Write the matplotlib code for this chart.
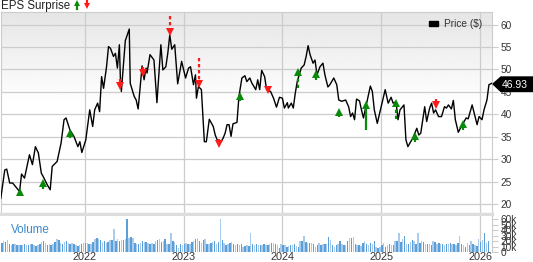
import numpy as np
import matplotlib
matplotlib.use("Agg")
import matplotlib.pyplot as plt
from matplotlib.patches import Polygon, Rectangle
from matplotlib.lines import Line2D

plt.rcParams['font.family'] = ['Liberation Sans', 'DejaVu Sans']

# price line, decimal years and dollars
price_t = [2021.15, 2021.19, 2021.21, 2021.24, 2021.27, 2021.30, 2021.34, 2021.36, 2021.39, 2021.44,
           2021.47, 2021.50, 2021.53, 2021.56, 2021.58, 2021.62, 2021.65, 2021.67, 2021.72, 2021.76,
           2021.79, 2021.81, 2021.85, 2021.89, 2021.93, 2021.95, 2021.97, 2022.01, 2022.03, 2022.05,
           2022.08, 2022.10, 2022.13, 2022.15, 2022.17, 2022.19, 2022.22, 2022.24, 2022.26, 2022.29,
           2022.31, 2022.33, 2022.35, 2022.36, 2022.37, 2022.41, 2022.45, 2022.46, 2022.50, 2022.52,
           2022.54, 2022.58, 2022.60, 2022.62, 2022.63, 2022.66, 2022.70, 2022.73, 2022.77, 2022.79,
           2022.82, 2022.84, 2022.86, 2022.88, 2022.91, 2022.94, 2022.98, 2023.02, 2023.05, 2023.07,
           2023.10, 2023.12, 2023.13, 2023.15, 2023.18, 2023.21, 2023.23, 2023.26, 2023.30, 2023.32,
           2023.36, 2023.40, 2023.42, 2023.44, 2023.46, 2023.48, 2023.50, 2023.54, 2023.56, 2023.59,
           2023.62, 2023.64, 2023.67, 2023.69, 2023.73, 2023.75, 2023.77, 2023.79, 2023.82, 2023.84,
           2023.88, 2023.91, 2023.94, 2023.97, 2024.00, 2024.02, 2024.05, 2024.06, 2024.09, 2024.11,
           2024.13, 2024.15, 2024.19, 2024.22, 2024.24, 2024.26, 2024.28, 2024.31, 2024.33, 2024.35,
           2024.38, 2024.41, 2024.43, 2024.46, 2024.48, 2024.52, 2024.55, 2024.57, 2024.60, 2024.64,
           2024.67, 2024.69, 2024.71, 2024.73, 2024.75, 2024.78, 2024.80, 2024.82, 2024.86, 2024.89,
           2024.91, 2024.93, 2024.96, 2025.00, 2025.04, 2025.07, 2025.10, 2025.12, 2025.15, 2025.17,
           2025.19, 2025.23, 2025.25, 2025.27, 2025.29, 2025.32, 2025.36, 2025.38, 2025.40, 2025.44,
           2025.46, 2025.49, 2025.51, 2025.53, 2025.55, 2025.58, 2025.61, 2025.64, 2025.66, 2025.68,
           2025.71, 2025.73, 2025.75, 2025.78, 2025.81, 2025.86, 2025.88, 2025.92, 2025.95, 2025.97,
           2025.99, 2026.02, 2026.04, 2026.07, 2026.09, 2026.12]
price = [21.3, 27.6, 27.8, 24.7, 24.7, 23.9, 22.8, 26.7, 25.8, 31.0,
         28.8, 32.8, 31.4, 26.9, 26.1, 24.3, 23.2, 28.4, 29.5, 33.6,
         38.8, 39.2, 36.5, 35.1, 32.8, 33.9, 31.5, 34.3, 37.7, 41.0,
         37.3, 41.0, 42.5, 40.6, 48.4, 45.8, 50.6, 55.1, 54.7, 52.9,
         53.6, 50.3, 55.5, 48.1, 45.1, 56.4, 59.0, 46.9, 44.0, 43.2,
         41.2, 50.8, 47.7, 50.3, 49.2, 53.3, 52.1, 42.6, 55.5, 49.9,
         50.6, 53.6, 57.7, 54.5, 55.5, 46.8, 51.8, 48.1, 50.3, 50.6,
         46.6, 48.8, 43.6, 46.2, 45.5, 33.9, 33.9, 38.9, 37.3, 35.4,
         33.2, 34.7, 35.8, 37.7, 37.7, 35.1, 37.9, 38.2, 44.0, 48.1,
         48.6, 47.3, 48.1, 47.0, 45.5, 47.7, 45.5, 49.8, 48.4, 45.5,
         45.1, 43.6, 41.6, 43.8, 43.6, 41.4, 42.6, 41.4, 42.5, 41.4,
         44.7, 47.3, 50.3, 51.0, 52.9, 55.3, 53.3, 51.4, 52.1, 48.8,
         50.6, 51.4, 48.8, 46.1, 46.6, 48.1, 46.6, 43.2, 42.9, 43.2,
         41.7, 39.5, 40.3, 38.8, 43.4, 43.0, 41.0, 39.2, 43.2, 46.3,
         45.1, 41.0, 38.0, 41.7, 45.5, 42.5, 43.8, 42.5, 42.8, 38.8,
         41.0, 42.1, 34.3, 32.8, 33.6, 34.7, 36.9, 35.4, 35.8, 41.7,
         38.4, 41.4, 42.5, 40.3, 41.0, 39.5, 39.5, 41.7, 41.4, 42.1,
         41.2, 43.1, 38.8, 36.0, 37.3, 39.2, 39.0, 42.1, 39.5, 37.7,
         39.5, 38.8, 41.0, 43.2, 46.6, 46.93]
last_price = "46.93"

# earnings surprises: date, arrow tip, arrow tail, beat/miss, dashed stem
eps_t = [2021.34, 2021.58, 2021.85, 2022.36, 2022.59, 2022.86, 2023.16, 2023.36, 2023.57,
         2023.85, 2024.16, 2024.34, 2024.57, 2024.85, 2025.15, 2025.34, 2025.55, 2025.83]
eps_tip = [23.4, 25.3, 36.4, 45.7, 48.7, 57.7, 46.2, 32.8, 44.6,
           44.9, 50.1, 49.5, 41.2, 42.6, 43.2, 35.8, 41.4, 38.4]
eps_tail = [21.7, 23.3, 34.7, 47.8, 50.5, 61.8, 52.5, 34.5, 42.9,
            46.3, 45.8, 47.7, 39.4, 36.5, 38.9, 33.9, 43.4, 36.5]
eps_beat = [True, True, True, False, False, False, False, False, True,
            False, True, True, True, True, True, True, False, True]
eps_dashed = [False, False, False, False, False, True, True, False, False,
              False, True, True, False, False, True, False, True, False]

# weekly volume in thousands
volume = [16, 20, 18, 22, 14, 12, 15, 14, 13, 12,
          13, 12, 14, 13, 12, 15, 14, 13, 11, 12,
          14, 18, 20, 16, 12, 14, 13, 15, 18, 24,
          22, 16, 14, 18, 20, 16, 15, 17, 14, 12, 11, 12,
          15, 16, 17, 16, 15, 14, 18, 24, 25, 23,
          22, 18, 20, 16, 19, 21, 22, 41, 20, 23,
          20, 21, 22, 24, 60, 25, 27, 26, 16, 14,
          15, 17, 20, 19, 18, 16, 14, 17, 15, 20, 22, 24,
          18, 20, 24, 15, 14, 34, 20, 18, 12, 8,
          14, 12, 15, 16, 14, 15, 18, 20, 24, 25,
          20, 16, 22, 24, 15, 14, 16, 18, 20, 15,
          18, 60, 22, 16, 12, 14, 17, 18, 15, 13, 14, 12, 15,
          10, 11, 12, 11, 34, 14, 13, 14, 13, 12,
          13, 14, 13, 12, 15, 16, 17, 15, 12, 8,
          14, 13, 12, 10, 11, 12, 13, 15, 11, 10,
          20, 20, 29, 18, 16, 17, 17, 15, 10, 12,
          16, 12, 15, 15, 14, 28, 22, 12, 10, 12, 15, 20,
          15, 12, 13, 20, 25, 26, 27, 14, 12, 12,
          11, 17, 20, 15, 12, 16, 15, 20, 10, 8,
          10, 12, 16, 10, 12, 14, 13, 12, 20, 20, 34,
          18, 23, 29, 14, 14, 18, 22, 20, 15, 34,
          16, 20, 18, 15, 14, 15, 13, 20, 18, 14,
          16, 15, 14, 13, 15, 14, 16, 15, 14, 12, 17, 29,
          14, 13, 10, 16, 12, 20, 14, 12,
          11, 24, 18, 22, 35, 16, 20]
vol_start = 2021.16

years = [2022, 2023, 2024, 2025, 2026]
price_ticks = [20, 25, 30, 35, 40, 45, 50, 55, 60]
vol_ticks = [0, 10, 20, 30, 40, 50, 60]

W, H = 533, 262
fig = plt.figure(figsize=(W / 100, H / 100), dpi=100)


def fx(x):
    return x / W


def fy(y):
    return 1 - y / H


grid_c = '#cccccc'
txt_c = '#333333'
xmin, xmax = 2021.152, 2026.121

ax = fig.add_axes([fx(1), fy(214), fx(492) - fx(1), fy(12) - fy(214)])
axv = fig.add_axes([fx(1), fy(252), fx(492) - fx(1), fy(216) - fy(252)])

# gray-to-white background of the price panel
grad = np.clip(np.linspace(0.90, 1.12, 200), 0, 1).reshape(-1, 1)
ax.imshow(grad, extent=[0, 1, 0, 1], transform=ax.transAxes, cmap='gray',
          vmin=0, vmax=1, aspect='auto', zorder=0, origin='upper')

ax.plot(price_t, price, color='black', lw=1.0, zorder=3)

for t, tip, tail, beat, dashed in zip(eps_t, eps_tip, eps_tail, eps_beat, eps_dashed):
    c = '#0a8a0a' if beat else '#ff1a1a'
    head = 1.2 if beat else -1.2
    ls = (0, (1.5, 1.2)) if dashed else '-'
    ax.plot([t, t], [tail, tip - head], color=c, lw=1.6, ls=ls, zorder=4,
            solid_capstyle='butt')
    ax.plot([t], [tip - head / 2], marker='^' if beat else 'v', color=c,
            markersize=5.8, markeredgewidth=0, zorder=5)

ax.set_xlim(xmin, xmax)
ax.set_ylim(17.8, 62.8)
ax.yaxis.tick_right()
ax.set_yticks(price_ticks)
ax.set_yticklabels([str(v) for v in price_ticks])
ax.set_xticks(years)
ax.set_xticklabels([])
ax.tick_params(axis='y', length=4, color=grid_c, labelsize=7.3, labelcolor=txt_c, pad=2)
ax.tick_params(axis='x', length=0)
ax.grid(True, color=grid_c, lw=0.9)
ax.set_axisbelow(True)
for s in ['top', 'right', 'left']:
    ax.spines[s].set_color(grid_c)
ax.spines['bottom'].set_color('#dddddd')
ax.spines['bottom'].set_linewidth(2.5)

# volume bars
vol_t = vol_start + np.arange(len(volume)) / 52
cols = ['#5b9fd8' if i % 2 == 0 else '#a8cbee' for i in range(len(volume))]
axv.bar(vol_t, volume, width=0.75 / 52, color=cols, zorder=3)
axv.set_xlim(xmin, xmax)
axv.set_ylim(0, 65.5)
axv.yaxis.tick_right()
axv.set_yticks(vol_ticks)
axv.set_yticklabels(['0' if v == 0 else f'{v}k' for v in vol_ticks])
axv.set_xticks(years)
axv.set_xticklabels([str(y) for y in years])
axv.tick_params(axis='y', length=4, color=grid_c, labelsize=7.3, labelcolor=txt_c, pad=2)
axv.tick_params(axis='x', length=0, labelsize=7.8, labelcolor=txt_c, pad=0.3)
axv.grid(True, axis='x', color=grid_c, lw=0.9)
axv.set_axisbelow(True)
axv.set_facecolor('white')
for s in ['top', 'bottom', 'left']:
    axv.spines[s].set_visible(False)
axv.spines['right'].set_color(grid_c)
axv.text(fx(10) / (fx(492) - fx(1)), 0.6, 'Volume', transform=axv.transAxes,
         fontsize=8.4, color='#3a8ad0', va='center', ha='left')

# title with the two arrows
fig.text(fx(1), fy(9.5), 'EPS Surprise', fontsize=8.3, color='#222222', va='baseline')
for x0, c, up in [(77, '#0a8a0a', True), (87, '#ff1a1a', False)]:
    fig.add_artist(Line2D([fx(x0)] * 2, [fy(8.5), fy(4)] if up else [fy(0), fy(4.5)],
                          color=c, lw=1.6, transform=fig.transFigure))
    fig.add_artist(Line2D([fx(x0)], [fy(2.5) if up else fy(6)], marker='^' if up else 'v',
                          color=c, markersize=5, markeredgewidth=0, transform=fig.transFigure))

# legend
fig.add_artist(Rectangle((fx(429), fy(25.5)), fx(9), fy(21.5) - fy(25.5), color='black',
                         transform=fig.transFigure))
fig.text(fx(444), fy(24), 'Price ($)', fontsize=7.3, color=txt_c, va='center')

# last price tag
tag = [(493, 84), (501, 77), (533, 77), (533, 91.5), (501, 91.5)]
fig.add_artist(Polygon([(fx(a), fy(b)) for a, b in tag], closed=True, color='black',
                       transform=fig.transFigure, zorder=10))
fig.text(fx(515), fy(84.5), last_price, fontsize=7.5, color='white', ha='center',
         va='center', zorder=11)

fig.savefig('out.png', dpi=100)
